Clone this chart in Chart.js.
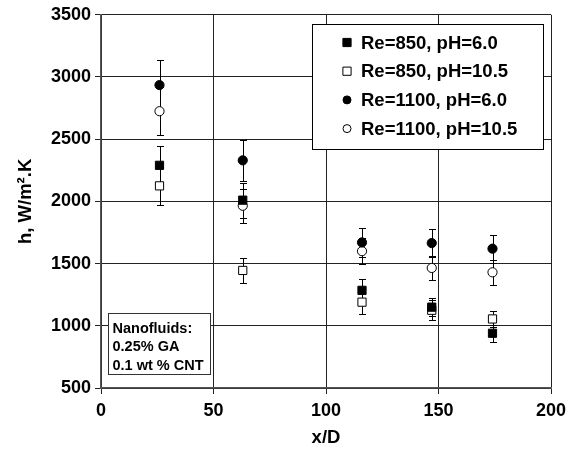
<!DOCTYPE html>
<html>
<head>
<meta charset="utf-8">
<script src="https://cdn.jsdelivr.net/npm/chart.js@4.4.1/dist/chart.umd.min.js"></script>
<style>
  html, body { margin: 0; padding: 0; background: #fff; }
  #wrap { width: 575px; height: 449px; }
</style>
</head>
<body>
<div id="wrap"><canvas id="chart"></canvas></div>
<script>
// x/D stations
const xPositions = [26, 63, 116, 147, 174];

// h values (W/m2.K) and error half-widths
const re850ph60 = [2290, 2010, 1285, 1150, 940];
const re850ph60Err = [155, 140, 88, 72, 70];
const re850ph105 = [2125, 1445, 1190, 1125, 1055];
const re850ph105Err = [150, 100, 95, 80, 65];
const re1100ph60 = [2935, 2330, 1670, 1665, 1620];
const re1100ph60Err = [200, 162, 115, 115, 113];
const re1100ph105 = [2725, 1965, 1600, 1465, 1430];
const re1100ph105Err = [195, 138, 107, 100, 102];

const seriesLabels = ['Re=850, pH=6.0', 'Re=850, pH=10.5', 'Re=1100, pH=6.0', 'Re=1100, pH=10.5'];
const xTicks = [0, 50, 100, 150, 200];
const yTicks = [500, 1000, 1500, 2000, 2500, 3000, 3500];
const noteLines = ['Nanofluids:', '0.25% GA', '0.1 wt % CNT'];

const FONT = '"Liberation Sans", Arial, Helvetica, sans-serif';

function points(ys, errs) {
    return xPositions.map((x, i) => ({ x: x, y: ys[i], err: errs[i] }));
}

function makeSet(label, ys, errs, style, filled) {
    return {
        label: label,
        data: points(ys, errs),
        pointStyle: style,
        pointRadius: style === 'rect' ? 5.8 : 4.6,
        pointBackgroundColor: filled ? '#000' : '#fff',
        pointBorderColor: '#000',
        pointBorderWidth: 1,
        showLine: false
    };
}

// draw error bars under the markers
const errorBars = {
    id: 'errorBars',
    beforeDatasetsDraw(chart) {
        const ctx = chart.ctx;
        const x = chart.scales.x, y = chart.scales.y;
        ctx.save();
        ctx.strokeStyle = '#000';
        ctx.lineWidth = 1;
        chart.data.datasets.forEach(ds => {
            ds.data.forEach(p => {
                const px = Math.round(x.getPixelForValue(p.x)) + 0.5;
                const top = Math.round(y.getPixelForValue(p.y + p.err)) + 0.5;
                const bot = Math.round(y.getPixelForValue(p.y - p.err)) + 0.5;
                ctx.beginPath();
                ctx.moveTo(px, top); ctx.lineTo(px, bot);
                ctx.moveTo(px - 3.5, top); ctx.lineTo(px + 3.5, top);
                ctx.moveTo(px - 3.5, bot); ctx.lineTo(px + 3.5, bot);
                ctx.stroke();
            });
        });
        ctx.restore();
    }
};

function drawMarker(ctx, ds, cx, cy) {
    ctx.beginPath();
    if (ds.pointStyle === 'rect') {
        const s = ds.pointRadius * Math.SQRT1_2;
        ctx.rect(cx - s, cy - s, 2 * s, 2 * s);
    } else {
        ctx.arc(cx, cy, ds.pointRadius - 0.6, 0, Math.PI * 2);
    }
    ctx.fillStyle = ds.pointBackgroundColor;
    ctx.fill();
    ctx.strokeStyle = '#000';
    ctx.lineWidth = 1;
    ctx.stroke();
}

// legend box, note box and y title
const annotations = {
    id: 'annotations',
    afterDraw(chart) {
        const ctx = chart.ctx;
        const area = chart.chartArea;
        ctx.save();

        // legend
        const lx = 312.5, ly = 24.5, lw = 231, lh = 125;
        ctx.fillStyle = '#fff';
        ctx.fillRect(lx, ly, lw, lh);
        ctx.strokeStyle = '#000';
        ctx.lineWidth = 1;
        ctx.strokeRect(lx, ly, lw, lh);
        ctx.font = 'bold 18.5px ' + FONT;
        ctx.textBaseline = 'middle';
        ctx.textAlign = 'left';
        chart.data.datasets.forEach((ds, i) => {
            const cy = 42.5 + i * 28.7;
            drawMarker(ctx, ds, 347, cy);
            ctx.fillStyle = '#000';
            ctx.fillText(ds.label, 361, cy + 1);
        });

        // note
        const nx = 108.5, ny = 313.5, nw = 102, nh = 61;
        ctx.fillStyle = '#fff';
        ctx.fillRect(nx, ny, nw, nh);
        ctx.strokeStyle = '#333';
        ctx.strokeRect(nx, ny, nw, nh);
        ctx.fillStyle = '#000';
        ctx.font = 'bold 14.5px ' + FONT;
        noteLines.forEach((t, i) => ctx.fillText(t, 112.5, 328.5 + i * 18.7));

        // y axis title
        ctx.translate(26, (area.top + area.bottom) / 2);
        ctx.rotate(-Math.PI / 2);
        ctx.textAlign = 'center';
        ctx.font = 'bold 18.5px ' + FONT;
        ctx.fillText('h, W/m\u00B2.K', 0, 0);
        ctx.restore();
    }
};

const tickFont = { family: FONT, size: 18, weight: 'bold' };

new Chart(document.getElementById('chart'), {
    type: 'scatter',
    data: {
        datasets: [
            makeSet(seriesLabels[0], re850ph60, re850ph60Err, 'rect', true),
            makeSet(seriesLabels[1], re850ph105, re850ph105Err, 'rect', false),
            makeSet(seriesLabels[2], re1100ph60, re1100ph60Err, 'circle', true),
            makeSet(seriesLabels[3], re1100ph105, re1100ph105Err, 'circle', false)
        ]
    },
    options: {
        responsive: true,
        maintainAspectRatio: false,
        animation: false,
        devicePixelRatio: 1,
        layout: { padding: { top: 14, right: 24, left: 0, bottom: 0 } },
        plugins: {
            legend: { display: false },
            tooltip: { enabled: false }
        },
        scales: {
            x: {
                type: 'linear',
                min: xTicks[0],
                max: xTicks[xTicks.length - 1],
                afterBuildTicks: s => { s.ticks = xTicks.map(v => ({ value: v })); },
                afterFit: s => { s.height = 61; },
                ticks: { color: '#000', padding: 6, font: tickFont, callback: v => String(v) },
                grid: { color: '#222', lineWidth: 1, tickLength: 6 },
                border: { color: '#555', width: 1.5 },
                title: {
                    display: true,
                    text: 'x/D',
                    color: '#000',
                    padding: { top: 0, bottom: 0 },
                    font: { family: FONT, size: 18.5, weight: 'bold' }
                }
            },
            y: {
                type: 'linear',
                min: yTicks[0],
                max: yTicks[yTicks.length - 1],
                afterBuildTicks: s => { s.ticks = yTicks.map(v => ({ value: v })); },
                afterFit: s => { s.width = 101; },
                ticks: { color: '#000', padding: 4, font: tickFont, callback: v => String(v) },
                grid: { color: '#222', lineWidth: 1, tickLength: 6 },
                border: { color: '#555', width: 1.5 }
            }
        }
    },
    plugins: [errorBars, annotations]
});
</script>
</body>
</html>
